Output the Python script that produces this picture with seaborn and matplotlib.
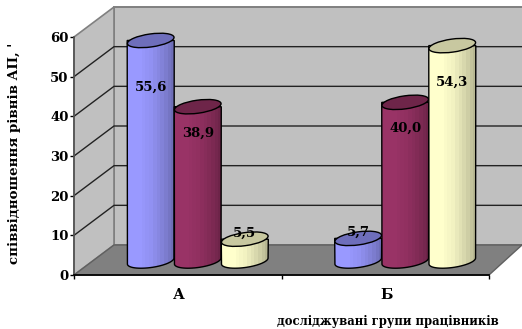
import numpy as np
import pandas as pd
import matplotlib
matplotlib.use("Agg")
import matplotlib.pyplot as plt
from matplotlib.patches import Polygon, Ellipse
import seaborn as sns

groups = ["А", "Б"]
levels = ["низький", "середній", "високий"]
values_low = [55.6, 5.7]
values_mid = [38.9, 40.0]
values_high = [5.5, 54.3]
value_labels = [["55,6", "5,7"], ["38,9", "40,0"], ["5,5", "54,3"]]
label_shift = [[47, -6], [27, 26], [-6, 37]]
y_ticks = [0, 10, 20, 30, 40, 50, 60]
y_label = "співвідношення рівнів АП, '"
x_label = "досліджувані групи працівників"

colors = ["#9999ff", "#993366", "#ffffcc"]
top_colors = ["#6e6ebb", "#6e2549", "#c8c8a0"]

sns.set_theme(style="white")
plt.rcParams["font.family"] = ["DejaVu Serif"]
plt.rcParams["font.weight"] = "bold"

W, H = 522, 329
fig = plt.figure(figsize=(W / 100, H / 100), dpi=100)


def box(x0, y0, x1, y1):
    # пікселі зображення -> координати фігури
    return [x0 / W, 1 - y1 / H, (x1 - x0) / W, (y1 - y0) / H]


# тло: стіни і підлога в пікселях
bg = fig.add_axes([0, 0, 1, 1])
bg.set_xlim(0, W)
bg.set_ylim(H, 0)
bg.axis("off")
x0, x1, y0, y1 = 74, 489, 275, 37
dx, dy = 40, -30
wall = "#c0c0c0"
edge = "#808080"
bg.add_patch(Polygon([(x0 + dx, y1 + dy), (W + 2, y1 + dy), (W + 2, y0 + dy), (x0 + dx, y0 + dy)],
                     fc=wall, ec=edge, lw=1.4))
bg.add_patch(Polygon([(x0, y0), (x0 + dx, y0 + dy), (x0 + dx, y1 + dy), (x0, y1)],
                     fc=wall, ec=edge, lw=1.2))
bg.add_patch(Polygon([(x0, y0), (x0 + dx, y0 + dy), (W + 2, y0 + dy), (x1 + 33, y0 + dy), (x1, y0)],
                     fc="#808080", ec="#606060", lw=1))
scale = (y0 - y1) / 60
for t in y_ticks[1:-1]:
    yp = y0 - t * scale
    bg.plot([x0, x0 + dx, W], [yp, yp + dy, yp + dy], color="#222222", lw=1.0)

# передня площина: осі
ax = fig.add_axes(box(x0, y1, x1, y0))
ax.patch.set_alpha(0)
ax.set_xlim(-0.5, 1.5)
ax.set_ylim(0, 60)
ax.set_yticks(y_ticks)
ax.set_xticks([-0.5, 0.5, 1.5])
ax.set_xticklabels([])
ax.tick_params(axis="both", length=3, width=1, color="black", bottom=True, left=True, pad=1)
ax.tick_params(axis="y", labelsize=9.5, labelcolor="black")
for s in ["top", "right"]:
    ax.spines[s].set_visible(False)
ax.spines["left"].set_color("#555555")
ax.spines["bottom"].set_color("black")
ax.grid(False)
for i, g in enumerate(groups):
    ax.text(i + 0.005, -5.0, g, ha="center", va="center", fontsize=10.5, color="black")

# стовпчики стоять посередині глибини
bx = fig.add_axes(box(x0 + dx / 2, y1 + dy / 2 + 1, x1 + dx / 2, y0 + dy / 2 + 1))
bx.patch.set_alpha(0)
df = pd.DataFrame({
    "group": groups * 3,
    "level": np.repeat(levels, 2),
    "value": values_low + values_mid + values_high,
})
sns.barplot(data=df, x="group", y="value", hue="level", hue_order=levels, palette=colors,
            width=0.68, gap=0, dodge=True, legend=False, saturation=1, ax=bx,
            edgecolor="none", linewidth=0)
bx.set_xlim(-0.5, 1.5)
bx.set_ylim(0, 60)
bx.axis("off")


def to_px(x, y):
    return bg.transData.inverted().transform(bx.transData.transform((x, y)))


def half_ellipse(cx, cy, a, b, angle=-8):
    # нижня половина нахиленого еліпса, справа наліво
    t = np.linspace(0, np.pi, 30)
    th = np.radians(angle)
    px = cx + a * np.cos(t) * np.cos(th) - b * np.sin(t) * np.sin(th)
    py = cy + a * np.cos(t) * np.sin(th) + b * np.sin(t) * np.cos(th)
    return list(zip(px, py))


# циліндри: смуги-градієнт, контур, верхня кришка
for i, level in enumerate(levels):
    col = np.array(matplotlib.colors.to_rgb(colors[i]))
    for j, p in enumerate(bx.containers[i]):
        xa, ya = to_px(p.get_x(), 0)
        xb, yb = to_px(p.get_x() + p.get_width(), p.get_height())
        p.set_visible(False)
        w = xb - xa
        cx = (xa + xb) / 2
        z = 4 + i + j * 3
        t = np.linspace(0, 1, 13)
        shade = np.interp(t, [0, 0.25, 0.5, 0.8, 1], [1.0, 1.0, 0.95, 0.83, 0.72])
        img = np.clip(col[None, :] * shade[:, None], 0, 1)[None, :, :]
        im = bg.imshow(img, extent=(xa, xb, ya + 9, yb - 9), aspect="auto", zorder=z,
                       interpolation="nearest")
        bg.set_xlim(0, W)
        bg.set_ylim(H, 0)
        outline = half_ellipse(cx, ya, w / 2, 6.5)
        body = Polygon(outline + [(xa, yb), (xb, yb)], closed=True, fc="none", ec="black", lw=1,
                       zorder=z + 0.1)
        bg.add_patch(body)
        im.set_clip_path(body)
        bg.add_patch(Ellipse((cx, yb), w, 13, angle=-8, fc=top_colors[i], ec="black",
                             lw=1, zorder=z + 0.2))
        bg.text(cx, yb + label_shift[i][j], value_labels[i][j], ha="center", va="center",
                fontsize=9.5, color="black", zorder=30)

fig.text(15 / W, 1 - 153 / H, y_label, rotation=90, ha="center", va="center", fontsize=9.6, color="black")
fig.text(388 / W, 1 - 321 / H, x_label, ha="center", va="center", fontsize=8.4, color="black")

plt.savefig("out.png", dpi=100)
